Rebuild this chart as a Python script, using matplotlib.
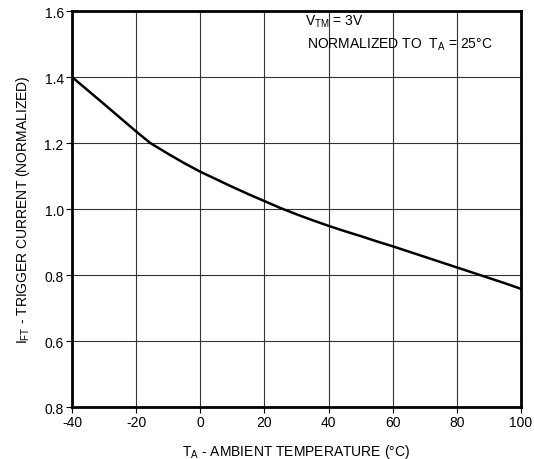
import matplotlib
matplotlib.use("Agg")
import matplotlib.pyplot as plt

plt.rcParams["font.family"] = ["Liberation Sans", "DejaVu Sans"]

# Courbe : courant de déclenchement normalisé
temperature = [-40, -30, -20, -15.6, -10, -5, 0, 5, 10, 15, 20, 25, 30, 35, 40,
               45, 50, 55, 60, 65, 70, 75, 80, 85, 90, 95, 100]
courant = [1.40, 1.318, 1.235, 1.200, 1.167, 1.139, 1.113, 1.090, 1.067, 1.045,
           1.024, 1.003, 0.984, 0.966, 0.949, 0.933, 0.918, 0.902, 0.887, 0.871,
           0.855, 0.839, 0.823, 0.807, 0.791, 0.775, 0.758]

x_ticks = [-40, -20, 0, 20, 40, 60, 80, 100]
y_ticks = [0.4, 0.6, 0.8, 1.0, 1.2, 1.4, 1.6]
# l'original porte "0.8" en bas de l'axe (coquille de la fiche technique)
y_tick_labels = ["0.8", "0.6", "0.8", "1.0", "1.2", "1.4", "1.6"]

fig = plt.figure(figsize=(5.34, 4.60), dpi=100)
ax = fig.add_axes([0.1348, 0.1130, 0.8409, 0.8609])

ax.plot(temperature, courant, color="black", linewidth=1.8, zorder=3,
        solid_joinstyle="round")

ax.set_xlim(-40, 100)
ax.set_ylim(0.4, 1.6)
ax.set_xticks(x_ticks)
ax.set_xticklabels([str(t) for t in x_ticks])
ax.set_yticks(y_ticks)
ax.set_yticklabels(y_tick_labels)
ax.grid(True, color="#333333", linewidth=0.8)
ax.tick_params(direction="out", length=4, width=0.8, labelsize=10, pad=2)

for spine in ax.spines.values():
    spine.set_linewidth(2)

ax.set_xlabel("T$_\\mathregular{A}$ - AMBIENT TEMPERATURE (°C)", fontsize=10, labelpad=9)
ax.set_ylabel("I$_\\mathregular{FT}$ - TRIGGER CURRENT (NORMALIZED)", fontsize=10, labelpad=9)

ax.text(32.5, 1.570, "V$_\\mathregular{TM}$ = 3V", fontsize=10, va="center", ha="left")
ax.text(33.3, 1.500, "NORMALIZED TO  T$_\\mathregular{A}$ = 25°C", fontsize=10, va="center", ha="left")

fig.savefig("out.png", dpi=100)
